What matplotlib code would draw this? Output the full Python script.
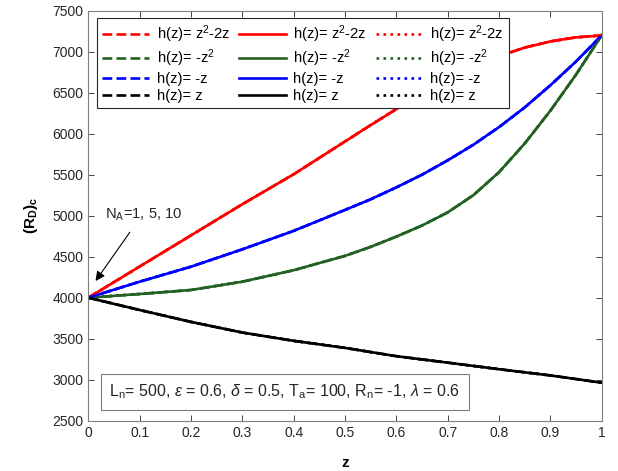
import numpy as np
import matplotlib
matplotlib.use("Agg")
import matplotlib.pyplot as plt

plt.rcParams['font.family'] = ['Liberation Sans', 'DejaVu Sans']
plt.rcParams['mathtext.fontset'] = 'custom'
plt.rcParams['mathtext.rm'] = 'Liberation Sans'
plt.rcParams['mathtext.it'] = 'Liberation Sans:italic'
plt.rcParams['mathtext.bf'] = 'Liberation Sans:bold'

# z grid and critical Rayleigh numbers
z = [0.0, 0.1, 0.2, 0.3, 0.4, 0.5, 0.55, 0.6, 0.65, 0.7, 0.75, 0.8, 0.85, 0.9, 0.95, 1.0]
rd_z2_2z = [4000, 4380, 4760, 5140, 5505, 5905, 6105, 6300, 6480, 6650, 6805,
            6945, 7050, 7125, 7175, 7198]
rd_mz2 = [4000, 4045, 4094, 4195, 4335, 4510, 4620, 4745, 4880, 5040, 5250,
          5530, 5880, 6280, 6720, 7200]
rd_mz = [4000, 4195, 4378, 4590, 4815, 5070, 5200, 5345, 5500, 5675, 5865,
         6080, 6320, 6590, 6880, 7200]
rd_z = [4000, 3850, 3705, 3575, 3474, 3388, 3337, 3287, 3247, 3208, 3168,
        3128, 3090, 3052, 3008, 2963]

labels = [r'h(z)= z$^2$-2z', r'h(z)= -z$^2$', 'h(z)= -z', 'h(z)= z']
colors = ['#ff0000', '#236123', '#0000ff', '#000000']
series = [rd_z2_2z, rd_mz2, rd_mz, rd_z]
styles = ['--', '-', ':']  # N_A = 1, 5, 10 (curves coincide)

fig = plt.figure(figsize=(6.18, 4.71), dpi=100)
ax = fig.add_axes([0.1429, 0.1068, 0.8307, 0.8705])

for ls in styles:
    for lab, c, y in zip(labels, colors, series):
        ax.plot(z, y, ls, color=c, lw=1.9, label=lab)

ax.set_xlim(0, 1)
ax.set_ylim(2500, 7500)
ax.set_xticks(np.arange(0, 1.01, 0.1))
ax.set_xticklabels(['0', '0.1', '0.2', '0.3', '0.4', '0.5', '0.6', '0.7', '0.8', '0.9', '1'])
ax.set_yticks(np.arange(2500, 7501, 500))
ax.tick_params(direction='in', top=True, right=True, length=4, labelsize=10,
               colors='#262626', width=0.6)
for s in ax.spines.values():
    s.set_color('#7f7f7f')
    s.set_linewidth(0.8)

ax.set_xlabel('z', fontsize=11, fontweight='bold', labelpad=12)
ax.set_ylabel(r'$\mathbf{(R_D)_c}$', fontsize=11, labelpad=9)

leg = ax.legend(ncol=3, loc='upper left', bbox_to_anchor=(0.017, 0.982),
                borderaxespad=0, fontsize=10.6, handlelength=3.2, handletextpad=0.5,
                columnspacing=0.6, labelspacing=0.2, borderpad=0.35,
                fancybox=False, framealpha=1)
leg.get_frame().set_edgecolor('#262626')
leg.get_frame().set_linewidth(0.8)

# annotation for N_A
ax.text(0.032, 4968, r'N$_\mathrm{A}$=1, 5, 10', fontsize=10.6, color='#262626')
ax.annotate('', xy=(0.011, 4176), xytext=(0.084, 4826),
            arrowprops=dict(arrowstyle='-|>', color='k', lw=0.8, mutation_scale=14))

ax.text(0.041, 2850,
        r'L$_\mathrm{n}$= 500, $\epsilon$ = 0.6, $\delta$ = 0.5, T$_\mathrm{a}$= 100, '
        r'R$_\mathrm{n}$= -1, $\lambda$ = 0.6',
        fontsize=11.5, color='#262626', va='center',
        bbox=dict(boxstyle='square,pad=0.55', fc='white', ec='#7f7f7f', lw=0.8))

fig.savefig('out.png', dpi=100)
